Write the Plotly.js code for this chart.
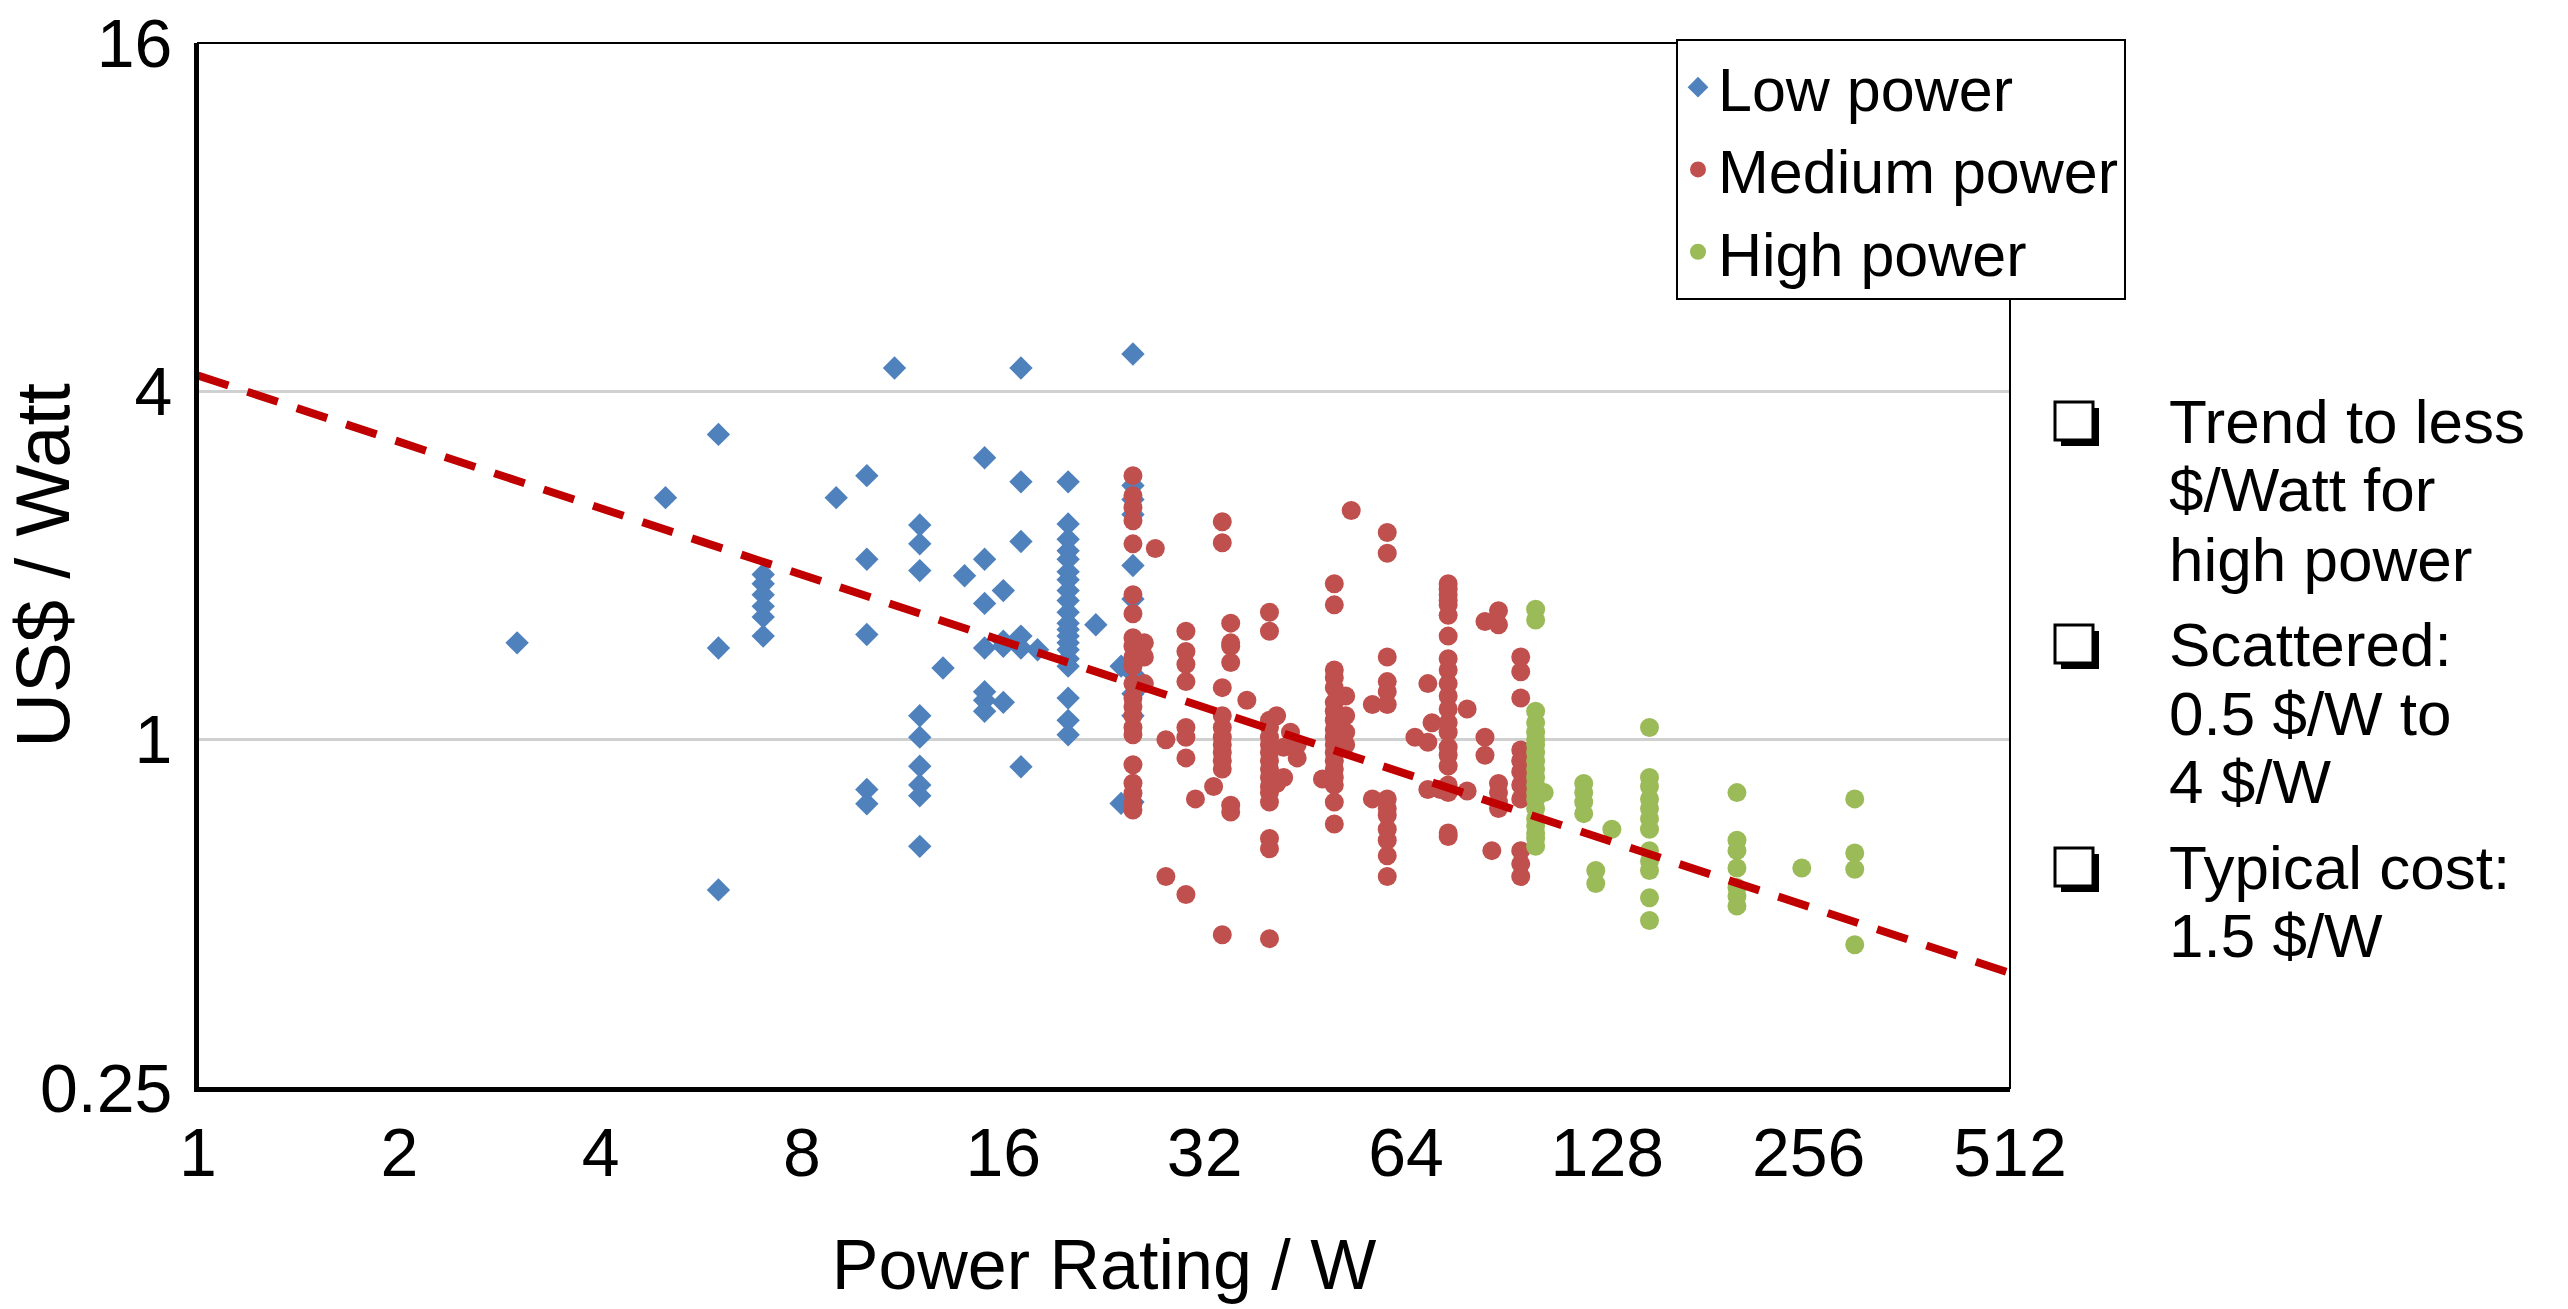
<!DOCTYPE html>
<html>
<head>
<meta charset="utf-8">
<script src="https://cdn.plot.ly/plotly-3.0.1.min.js"></script>
<style>
  html, body { margin: 0; padding: 0; background: #ffffff; }
  #chart { width: 2568px; height: 1309px; }
</style>
</head>
<body>
<div id="chart"></div>
<script>
// ---- Data ----
const lowPower = [
  3,
  5,
  6, 6, 6,
  7, 7, 7, 7, 7, 7,
  9,
  10, 10, 10, 10, 10,
  11,
  12, 12, 12, 12, 12, 12, 12, 12, 12,
  13,
  14,
  15, 15, 15, 15, 15, 15, 15,
  16, 16, 16, 16,
  17, 17, 17, 17, 17, 17,
  18,
  20, 20, 20, 20, 20, 20, 20, 20, 20, 20,
  20, 20, 20, 20, 20, 20, 20, 20, 20, 20,
  22,
  24, 24,
  25, 25, 25, 25, 25, 25, 25, 25, 25, 25
];
const lowCost = [
  1.47,
  2.62,
  3.37, 1.44, 0.55,
  1.93, 1.86, 1.78, 1.70, 1.63, 1.51,
  2.62,
  2.86, 2.05, 1.52, 0.82, 0.775,
  4.39,
  2.35, 2.18, 1.96, 1.10, 1.01, 0.90, 0.835, 0.80, 0.654,
  1.33,
  1.92,
  3.07, 2.05, 1.72, 1.44, 1.21, 1.17, 1.12,
  1.81, 1.48, 1.45, 1.16,
  4.39, 2.79, 2.20, 1.51, 1.44, 0.898,
  1.43,
  2.79, 2.36, 2.22, 2.12, 2.05, 1.95, 1.89, 1.81, 1.74, 1.66,
  1.59, 1.55, 1.51, 1.47, 1.43, 1.38, 1.34, 1.18, 1.08, 1.02,
  1.58,
  1.34, 0.776,
  4.64, 2.75, 2.60, 2.45, 2.00, 1.75, 1.30, 1.20, 1.10, 0.78
];

const medPower = [
  25, 25, 25, 25, 25, 25, 25, 25, 25, 25, 25,
  25, 25, 25, 25, 25, 25, 25, 25, 25, 25, 25,
  26, 26, 26,
  27,
  28, 28,
  30, 30, 30, 30, 30, 30, 30, 30,
  31,
  33,
  34, 34, 34, 34, 34, 34, 34, 34, 34, 34, 34,
  35, 35, 35, 35, 35, 35,
  37,
  40, 40, 40, 40, 40, 40, 40, 40,
  40, 40, 40, 40, 40, 40, 40, 40,
  41, 41,
  42, 42,
  43,
  44, 44,
  48,
  50, 50, 50, 50, 50, 50, 50, 50, 50,
  50, 50, 50, 50, 50, 50, 50, 50, 50,
  52, 52, 52, 52,
  53,
  57, 57,
  60, 60, 60, 60, 60, 60, 60, 60, 60, 60, 60, 60, 60,
  66,
  69, 69, 69,
  70,
  72,
  74, 74, 74, 74, 74, 74, 74, 74, 74, 74, 74,
  74, 74, 74, 74, 74, 74, 74, 74, 74, 74,
  79, 79,
  84, 84, 84,
  86,
  88, 88, 88, 88, 88, 88,
  95, 95, 95, 95, 95, 95, 95, 95, 95, 95, 95
];
const medCost = [
  2.86, 2.64, 2.52, 2.39, 2.18, 1.78, 1.65, 1.50, 1.45, 1.39, 1.34,
  1.25, 1.18, 1.14, 1.10, 1.05, 1.02, 0.905, 0.841, 0.808, 0.776, 0.756,
  1.47, 1.39, 1.25,
  2.14,
  1.00, 0.58,
  1.54, 1.42, 1.35, 1.26, 1.05, 1.01, 0.93, 0.54,
  0.79,
  0.83,
  2.38, 2.19, 1.23, 1.10, 1.05, 1.01, 0.98, 0.95, 0.92, 0.89, 0.46,
  1.59, 1.47, 1.45, 1.36, 0.77, 0.75,
  1.17,
  1.66, 1.54, 1.08, 1.05, 1.01, 0.98, 0.95, 0.92,
  0.89, 0.86, 0.83, 0.81, 0.78, 0.675, 0.648, 0.453,
  1.10, 0.84,
  0.97, 0.86,
  1.03,
  0.93, 0.98,
  0.855,
  1.86, 1.71, 1.32, 1.28, 1.23, 1.16, 1.12, 1.08, 1.04,
  1.01, 0.98, 0.95, 0.92, 0.89, 0.86, 0.835, 0.78, 0.715,
  1.19, 1.10, 1.03, 0.98,
  2.49,
  1.15, 0.79,
  2.28, 2.10, 1.39, 1.26, 1.21, 1.15, 0.79, 0.76, 0.74, 0.70, 0.67, 0.63, 0.58,
  1.01,
  1.25, 0.99, 0.82,
  1.07,
  0.82,
  1.86, 1.82, 1.78, 1.74, 1.71, 1.64, 1.51, 1.38, 1.32, 1.25, 1.19,
  1.13, 1.07, 1.03, 0.97, 0.94, 0.90, 0.835, 0.81, 0.69, 0.68,
  1.13, 0.815,
  1.60, 1.01, 0.94,
  0.643,
  1.67, 1.58, 0.84, 0.81, 0.78, 0.76,
  1.39, 1.31, 1.18, 0.96, 0.92, 0.88, 0.835, 0.79, 0.643, 0.61, 0.58
];

const highPower = [
  100, 100, 100, 100, 100, 100, 100, 100, 100, 100,
  100, 100, 100, 100, 100, 100, 100, 100, 100, 100,
  103,
  118, 118, 118, 118,
  123, 123,
  130,
  148, 148, 148, 148, 148, 148, 148, 148, 148, 148, 148, 148,
  200, 200, 200, 200, 200, 200, 200,
  250,
  300, 300, 300, 300
];
const highCost = [
  1.68, 1.61, 1.12, 1.07, 1.03, 1.00, 0.98, 0.95, 0.92, 0.89,
  0.86, 0.835, 0.81, 0.79, 0.76, 0.73, 0.71, 0.69, 0.675, 0.654,
  0.81,
  0.84, 0.81, 0.78, 0.745,
  0.594, 0.564,
  0.70,
  1.05, 0.86, 0.83, 0.79, 0.76, 0.73, 0.70, 0.643, 0.617, 0.594, 0.533, 0.487,
  0.81, 0.67, 0.643, 0.60, 0.555, 0.537, 0.516,
  0.60,
  0.79, 0.637, 0.597, 0.442
];

// Power-law trend line, end points
const trendPower = [1, 512];
const trendCost = [4.26, 0.395];

const xTickVals = [1, 2, 4, 8, 16, 32, 64, 128, 256, 512];
const xTickText = ['1', '2', '4', '8', '16', '32', '64', '128', '256', '512'];
const yTickVals = [0.25, 1, 4, 16];
const yTickText = ['0.25', '1', '4', '16'];

const seriesNames = ['Low power', 'Medium power', 'High power'];
const noteLines = ['Trend to less', '$/Watt for', 'high power',
                   'Scattered:', '0.5 $/W to', '4 $/W',
                   'Typical cost:', '1.5 $/W'];

// ---- Layout geometry (pixels) ----
const W = 2568, H = 1309;
const L = 198, R = 2010, T = 43, B = 1088;
const px2x = p => (p - L) / (R - L);
const py2y = p => (B - p) / (B - T);

const FONT = 'Liberation Sans, Arial, sans-serif';

const traces = [
  {
    type: 'scatter', mode: 'markers', name: seriesNames[0],
    x: lowPower, y: lowCost,
    marker: { symbol: 'diamond', size: 18, color: '#4F81BD', line: { width: 0 } }
  },
  {
    type: 'scatter', mode: 'markers', name: seriesNames[1],
    x: medPower, y: medCost,
    marker: { symbol: 'circle', size: 19, color: '#C0504D', line: { width: 0 } }
  },
  {
    type: 'scatter', mode: 'markers', name: seriesNames[2],
    x: highPower, y: highCost,
    marker: { symbol: 'circle', size: 19, color: '#9BBB59', line: { width: 0 } }
  },
  {
    type: 'scatter', mode: 'lines', name: 'Trend', showlegend: false,
    x: trendPower, y: trendCost,
    line: { color: '#C00000', width: 8, dash: '32px,20px' }
  }
];

// right-hand notes
const noteY = [421, 490, 559, 644, 713, 781, 867, 935];
const bulletY = [421, 644, 867];
const annotations = [];
noteLines.forEach((t, i) => {
  annotations.push({
    xref: 'paper', yref: 'paper', x: px2x(2167), y: py2y(noteY[i]),
    xanchor: 'left', yanchor: 'middle', showarrow: false, text: t,
    font: { family: FONT, size: 62, color: '#000' }
  });
});

const shapes = [
  { type: 'rect', xref: 'paper', yref: 'paper', x0: 0, x1: 1, y0: 0, y1: 1,
    line: { color: '#000', width: 2 }, fillcolor: 'rgba(0,0,0,0)', layer: 'above' }
];
// shadowed check boxes (bullets)
bulletY.forEach(cy => {
  const s = 38, off = 6, cx = 2074;
  shapes.push({
    type: 'rect', xref: 'paper', yref: 'paper',
    x0: px2x(cx - s / 2 + off), x1: px2x(cx + s / 2 + off),
    y0: py2y(cy + s / 2 + off), y1: py2y(cy - s / 2 + off),
    line: { width: 0 }, fillcolor: '#000', layer: 'above'
  });
  shapes.push({
    type: 'rect', xref: 'paper', yref: 'paper',
    x0: px2x(cx - s / 2), x1: px2x(cx + s / 2),
    y0: py2y(cy + s / 2), y1: py2y(cy - s / 2),
    line: { color: '#000', width: 3 }, fillcolor: '#fff', layer: 'above'
  });
});

const layout = {
  width: W, height: H,
  margin: { l: L, r: W - R, t: T, b: H - B, pad: 0 },
  paper_bgcolor: '#ffffff', plot_bgcolor: '#ffffff',
  font: { family: FONT, color: '#000' },
  showlegend: true,
  legend: {
    x: px2x(1676), y: py2y(39), xanchor: 'left', yanchor: 'top',
    bgcolor: '#ffffff', bordercolor: '#000000', borderwidth: 2,
    font: { family: FONT, size: 61, color: '#000' },
    itemsizing: 'trace', tracegroupgap: 0
  },
  xaxis: {
    type: 'log', range: [0, Math.log10(512)],
    tickvals: xTickVals, ticktext: xTickText,
    showgrid: false, zeroline: false,
    showline: true, linecolor: '#000', linewidth: 4,
    ticks: '', ticklabelstandoff: 2,
    tickfont: { family: FONT, size: 68, color: '#000' },
    title: { text: 'Power Rating / W', font: { family: FONT, size: 70, color: '#000' }, standoff: 52 },
    automargin: false
  },
  yaxis: {
    type: 'log', range: [Math.log10(0.25), Math.log10(16)],
    tickvals: yTickVals, ticktext: yTickText,
    showgrid: true, gridcolor: '#D0D0D0', gridwidth: 2.5, zeroline: false,
    showline: true, linecolor: '#000', linewidth: 4,
    ticks: '', ticklabelstandoff: 8,
    tickfont: { family: FONT, size: 68, color: '#000' },
    title: { text: 'US$ / Watt', font: { family: FONT, size: 76, color: '#000' }, standoff: 30 },
    automargin: false
  },
  shapes: shapes,
  annotations: annotations
};

Plotly.newPlot('chart', traces, layout, { displayModeBar: false, staticPlot: true });
</script>
</body>
</html>
